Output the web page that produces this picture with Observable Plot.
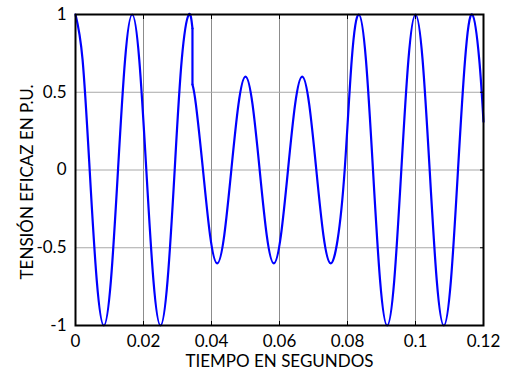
<!DOCTYPE html>
<html>
<head>
<meta charset="utf-8">
<script src="https://cdn.jsdelivr.net/npm/d3@7"></script>
<script src="https://cdn.jsdelivr.net/npm/@observablehq/plot@0.6"></script>
<style>
  html, body { margin: 0; padding: 0; background: #fff; }
</style>
</head>
<body>
<div id="chart"></div>
<script>
// Full-voltage segment before the sag (time in s, voltage in p.u.)
const timeA = [0, 0.00208, 0.00417, 0.00625, 0.00833, 0.01042, 0.0125, 0.01458, 0.01667,
  0.01875, 0.02083, 0.02292, 0.025, 0.02708, 0.02917, 0.03125, 0.03333, 0.0344];
const voltA = [1, 0.71, 0, -0.71, -1, -0.71, 0, 0.71, 1,
  0.71, 0, -0.71, -1, -0.71, 0, 0.71, 1, 0.91];

// Sag and recovery segment
const timeB = [0.0344, 0.03542, 0.0375, 0.03958, 0.04167, 0.04375, 0.04583, 0.04792, 0.05,
  0.05208, 0.05417, 0.05625, 0.05833, 0.06042, 0.0625, 0.06458, 0.06667, 0.06875, 0.07083,
  0.07292, 0.075, 0.07708, 0.07917, 0.08125, 0.08333, 0.08542, 0.0875, 0.08958, 0.09167,
  0.09375, 0.09583, 0.09792, 0.1, 0.10208, 0.10417, 0.10625, 0.10833, 0.11042, 0.1125,
  0.11458, 0.11667, 0.11875, 0.12];
const voltB = [0.55, 0.42, 0, -0.42, -0.6, -0.42, 0, 0.42, 0.6,
  0.42, 0, -0.42, -0.6, -0.42, 0, 0.42, 0.6, 0.42, 0,
  -0.42, -0.6, -0.45, 0, 0.71, 1, 0.71, 0, -0.71, -1,
  -0.71, 0, 0.71, 1, 0.71, 0, -0.71, -1, -0.71, 0,
  0.71, 1, 0.71, 0.31];

const xTicks = [0, 0.02, 0.04, 0.06, 0.08, 0.1, 0.12];
const xTickLabels = ["0", "0.02", "0.04", "0.06", "0.08", "0.1", "0.12"];
const yTicks = [-1, -0.5, 0, 0.5, 1];
const yTickLabels = ["-1", "-0.5", "0", "0.5", "1"];
const xTitle = "TIEMPO EN SEGUNDOS";
const yTitle = "TENSIÓN EFICAZ EN P.U.";

const curveData = [
  ...timeA.map((t, i) => ({t, v: voltA[i], seg: "a"})),
  ...timeB.map((t, i) => ({t, v: voltB[i], seg: "b"}))
];
const dropData = [
  {t: timeA[timeA.length - 1], v: voltA[voltA.length - 1]},
  {t: timeB[0], v: voltB[0]}
];

const chart = Plot.plot({
  width: 505,
  height: 371,
  marginLeft: 75,
  marginRight: 22,
  marginTop: 14,
  marginBottom: 46,
  style: {fontFamily: "Lato, 'Open Sans', sans-serif", fontSize: "17px", background: "#fff", color: "#000"},
  x: {domain: [0, 0.12]},
  y: {domain: [-1, 1]},
  marks: [
    Plot.gridX(xTicks, {stroke: "#8c8c8c", strokeOpacity: 1, strokeWidth: 1}),
    Plot.gridY(yTicks, {stroke: "#a8a8a8", strokeOpacity: 1, strokeWidth: 1}),
    Plot.line(curveData, {x: "t", y: "v", z: "seg", stroke: "#0000ff", strokeWidth: 2.2, curve: "natural"}),
    Plot.line(dropData, {x: "t", y: "v", stroke: "#0000ff", strokeWidth: 2.2}),
    Plot.frame({stroke: "#000", strokeWidth: 2}),
    Plot.axisX(xTicks, {anchor: "bottom", tickSize: -4, tickPadding: 13, label: null,
      tickFormat: (d, i) => xTickLabels[i], fontSize: 17}),
    Plot.axisX(xTicks, {anchor: "top", tickSize: -4, text: null, label: null}),
    Plot.axisY(yTicks, {anchor: "left", tickSize: 0, tickPadding: 9, label: null,
      tickFormat: (d, i) => yTickLabels[i], fontSize: 17}),
    Plot.axisY(yTicks, {anchor: "right", tickSize: -4, text: null, label: null}),
    Plot.text([xTitle], {frameAnchor: "bottom", lineAnchor: "middle", textAnchor: "middle", dy: 36, fontSize: 17}),
    Plot.text([yTitle], {frameAnchor: "left", rotate: -90, textAnchor: "middle", lineAnchor: "middle", dx: -48, dy: 12, fontSize: 17})
  ]
});
document.getElementById("chart").appendChild(chart);
</script>
</body>
</html>
